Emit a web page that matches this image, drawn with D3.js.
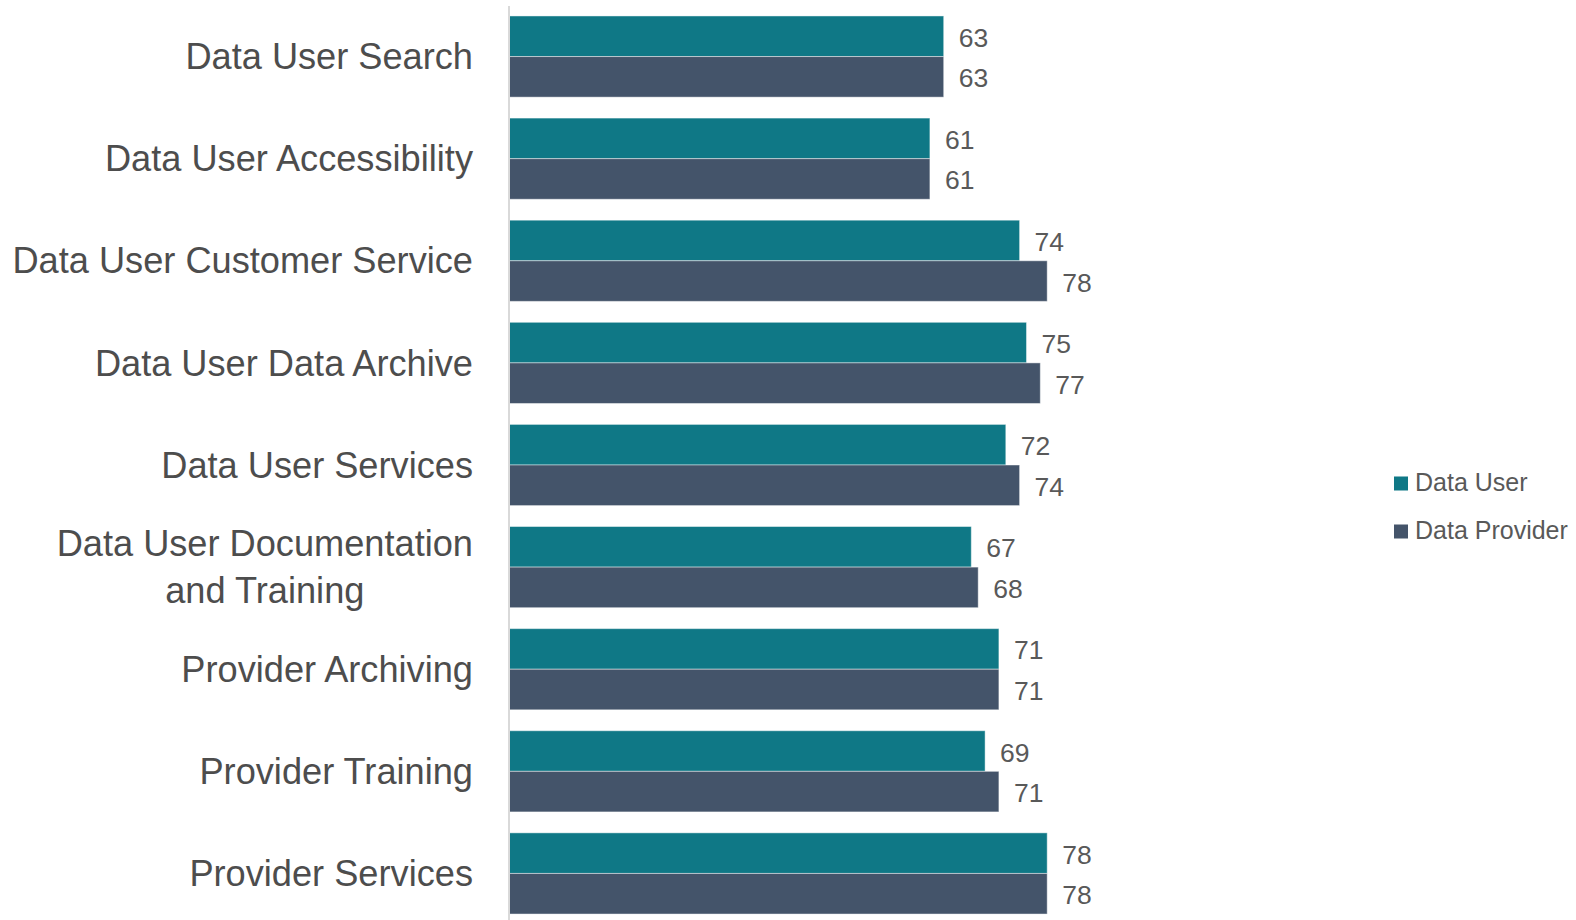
<!DOCTYPE html>
<html>
<head>
<meta charset="utf-8">
<script src="https://cdn.jsdelivr.net/npm/d3@7"></script>
<style>
  html, body { margin: 0; padding: 0; background: #ffffff; }
  svg { display: block; }
  text { font-family: "Liberation Sans", Arial, sans-serif; }
</style>
</head>
<body>
<svg id="chart" width="1576" height="920"></svg>
<script>
// Category names (line breaks marked with "\n")
const categories = [
  "Data User Search",
  "Data User Accessibility",
  "Data User Customer Service",
  "Data User Data Archive",
  "Data User Services",
  "Data User Documentation\nand Training",
  "Provider Archiving",
  "Provider Training",
  "Provider Services"
];

const seriesNames = ["Data User", "Data Provider"];
const dataUser     = [63, 61, 74, 75, 72, 67, 71, 69, 78];
const dataProvider = [63, 61, 78, 77, 74, 68, 71, 71, 78];
const seriesColors = ["#0f7886", "#44546a"];

const seriesValues = [dataUser, dataProvider];

const svg = d3.select("#chart");

const axisX = 509;
const x = d3.scaleLinear().domain([0, 90]).range([axisX, axisX + 621]);

const y = d3.scaleBand()
  .domain(categories)
  .range([5.5, 924.5])
  .paddingInner(0.205)
  .paddingOuter(0.1025);

const ySub = d3.scaleBand()
  .domain(seriesNames)
  .range([0, y.bandwidth()])
  .padding(0);

const rows = categories.map((c, i) => ({
  category: c,
  values: seriesNames.map((s, k) => ({ series: s, k, value: seriesValues[k][i] }))
}));

// Bars
const groups = svg.append("g").selectAll("g")
  .data(rows)
  .join("g")
  .attr("transform", d => `translate(0,${y(d.category)})`);

groups.selectAll("rect")
  .data(d => d.values)
  .join("rect")
  .attr("x", x(0))
  .attr("y", d => ySub(d.series))
  .attr("width", d => x(d.value) - x(0))
  .attr("height", ySub.bandwidth())
  .attr("fill", d => seriesColors[d.k])
  .attr("stroke", "rgba(255,255,255,0.45)")
  .attr("stroke-width", 1);

// Value labels
groups.selectAll("text.val")
  .data(d => d.values)
  .join("text")
  .attr("class", "val")
  .attr("x", d => x(d.value) + 15)
  .attr("y", d => ySub(d.series) + ySub.bandwidth() / 2 + 10.5)
  .attr("fill", "#595959")
  .attr("font-size", 26.5)
  .text(d => d.value);

// Vertical category axis line
svg.append("line")
  .attr("x1", axisX).attr("x2", axisX)
  .attr("y1", 6).attr("y2", 920)
  .attr("stroke", "#d9d9d9")
  .attr("stroke-width", 2);

// Category labels (right-aligned block, centred lines)
const labelRight = 473;
const lineGap = 47;
const catColor = "#4d4d4d";
const catSize = 36.2;
svg.append("g").selectAll("g")
  .data(categories)
  .join("g")
  .each(function(c) {
    const lines = c.split("\n");
    const cy = y(c) + y.bandwidth() / 2;
    const g = d3.select(this);
    if (lines.length === 1) {
      g.append("text")
        .attr("x", labelRight)
        .attr("y", cy + 12.7)
        .attr("text-anchor", "end")
        .attr("fill", catColor)
        .attr("font-size", catSize)
        .text(lines[0]);
    } else {
      const t = g.append("text")
        .attr("text-anchor", "middle")
        .attr("fill", catColor)
        .attr("font-size", catSize);
      const firstBase = cy + 12.7 - lineGap * (lines.length - 1) / 2;
      t.selectAll("tspan")
        .data(lines)
        .join("tspan")
        .attr("y", (d, i) => firstBase + i * lineGap)
        .text(d => d);
      // measure widest line to right-align the whole block
      const w = d3.max(t.selectAll("tspan").nodes(), n => n.getComputedTextLength());
      t.selectAll("tspan").attr("x", labelRight - w / 2);
    }
  });

// Legend
const legend = svg.append("g").attr("transform", "translate(1394,0)");
const legendY = [490.5, 538.5];
seriesNames.forEach((s, k) => {
  legend.append("rect")
    .attr("x", 0)
    .attr("y", legendY[k] - 14)
    .attr("width", 14)
    .attr("height", 14)
    .attr("fill", seriesColors[k]);
  legend.append("text")
    .attr("x", 21)
    .attr("y", legendY[k])
    .attr("fill", "#595959")
    .attr("font-size", 25)
    .text(s);
});
</script>
</body>
</html>
